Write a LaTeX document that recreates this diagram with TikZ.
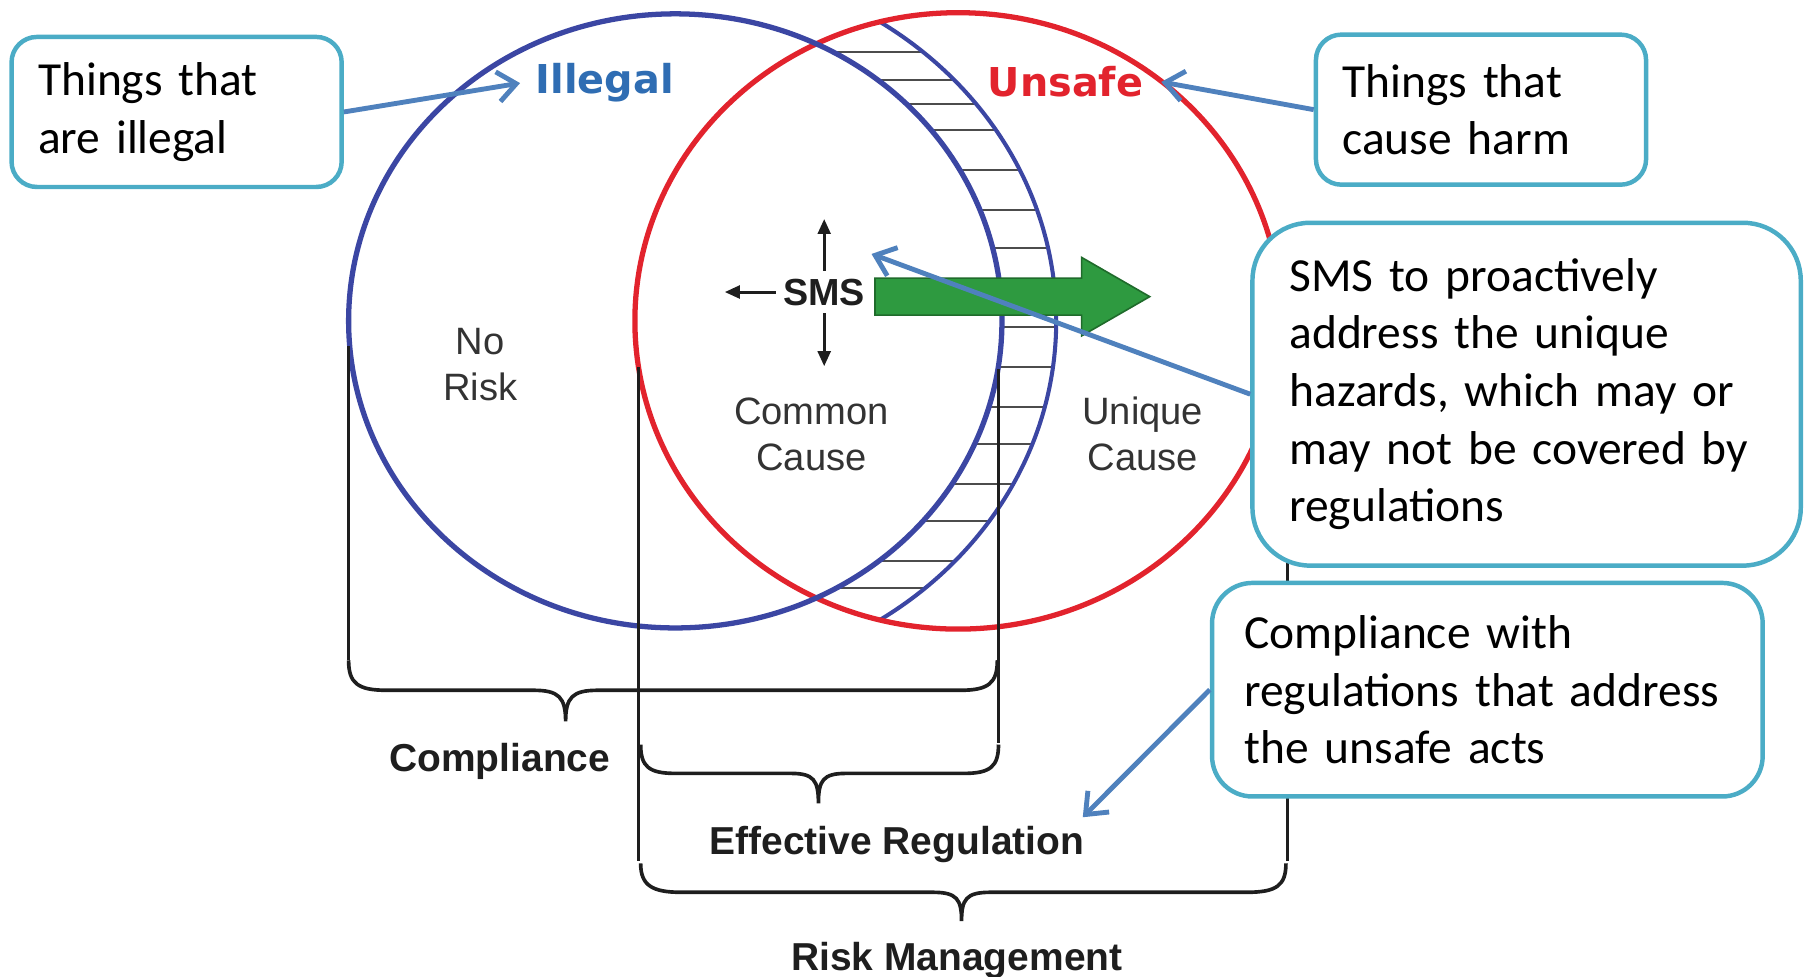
\documentclass[tikz,border=0pt]{standalone}
\usepackage{fontspec}
\setmainfont{Carlito}
\newfontfamily\labelfont{Liberation Sans}
\newfontfamily\setfont{DejaVu Sans}
\usetikzlibrary{arrows.meta}

\definecolor{ringblue}{HTML}{3B46A3}
\definecolor{ringred}{HTML}{E2232D}
\definecolor{setblue}{HTML}{2F6DB3}
\definecolor{calloutborder}{HTML}{4BACC6}
\definecolor{pointerblue}{HTML}{4F81BD}
\definecolor{arrowgreen}{HTML}{2E9A40}
\definecolor{arrowedge}{HTML}{1F6B2B}
\definecolor{ink}{HTML}{1E1E1E}
\definecolor{softink}{HTML}{333333}

\begin{document}
\begin{tikzpicture}[x=0.1mm, y=-0.1mm,
  callout/.style={draw=calloutborder, line width=1.1pt, fill=white, align=left,
    inner ysep=0pt, font=\fontsize{11.7}{14.2}\selectfont},
  pointer/.style={draw=pointerblue, line width=1.2pt,
    -{Straight Barb[length=1.6mm,width=2.6mm]}},
  ringline/.style={line width=1.3pt},
  bracketline/.style={line width=0.9pt, ink},
  guideline/.style={line width=0.7pt, ink},
  hatchline/.style={line width=0.5pt, black!70},
  smsarrow/.style={line width=0.75pt, ink, -{Triangle[length=1.3mm,width=1.1mm]}},
  arealabel/.style={font=\labelfont\fontsize{9.4}{11.4}\selectfont, text=softink, align=center},
  bracelabel/.style={font=\labelfont\bfseries\fontsize{9.6}{11}\selectfont, text=ink, inner sep=0pt, anchor=base},
  setname/.style={font=\setfont\bfseries\fontsize{9.8}{11}\selectfont}
]
\useasboundingbox (0,0) rectangle (1568,846);

% hatched crescent between the Illegal ring and its outer arc
\begin{scope}
  \clip (576,278) ellipse [x radius=33.9mm, y radius=31mm];
  \clip (830,278) ellipse [x radius=28mm, y radius=26.7mm];
  \foreach \yy in {45,69,90,113,147,182,215,250,283,318,353,385,419,451,486,509}
    \draw[hatchline] (600,\yy) -- (1000,\yy);
\end{scope}
\fill[white] (585,278) ellipse [x radius=28.3mm, y radius=26.6mm];

% outer arc of the crescent, kept inside the Unsafe ring
\begin{scope}
  \clip (830,278) ellipse [x radius=28.1mm, y radius=26.8mm];
  \draw[ringblue, line width=1pt] (576,278) ellipse [x radius=33.9mm, y radius=31mm];
\end{scope}

% the two sets
\draw[ringline, ringred] (830,278) ellipse [x radius=28mm, y radius=26.7mm];
\draw[ringline, ringblue] (585,278) ellipse [x radius=28.3mm, y radius=26.6mm];

% vertical guides of the brackets
\draw[guideline] (302,300) -- (302,572);
\draw[guideline] (553,318) -- (553,746);
\draw[guideline] (865,320) -- (865,644);
\draw[guideline] (1115,320) -- (1115,746);

% brackets
\draw[bracketline] (302,572) .. controls (302,592) and (310,598) .. (335,598)
  -- (462,598) .. controls (484,598) and (490,604) .. (490,625)
  .. controls (490,604) and (496,598) .. (518,598)
  -- (832,598) .. controls (856,598) and (864,592) .. (864,572);
\draw[bracketline] (555,645) .. controls (555,664) and (562,670) .. (585,670)
  -- (685,670) .. controls (705,670) and (709,676) .. (709,696)
  .. controls (709,676) and (713,670) .. (733,670)
  -- (835,670) .. controls (858,670) and (865,664) .. (865,645);
\draw[bracketline] (555,748) .. controls (555,767) and (565,773) .. (590,773)
  -- (808,773) .. controls (829,773) and (833,779) .. (833,798)
  .. controls (833,779) and (837,773) .. (858,773)
  -- (1080,773) .. controls (1106,773) and (1114,767) .. (1114,748);

\node[bracelabel] (compl) at (433,668) {Compliance};
\node[bracelabel] (effreg) at (777,740) {Effective Regulation};
\node[bracelabel] (riskmgmt) at (829,841) {Risk Management};

% SMS and its directions
\draw[fill=arrowgreen, draw=arrowedge, line width=0.4pt]
  (758,241) -- (937,241) -- (937,223) -- (996,257) -- (937,291) -- (937,273) -- (758,273) -- cycle;
\node[font=\labelfont\bfseries\fontsize{9.3}{11}\selectfont, text=ink, inner sep=0.6mm] (sms) at (714,253) {SMS};
\draw[smsarrow] (sms.north) -- ++(0,-45);
\draw[smsarrow] (sms.south) -- ++(0,46);
\draw[smsarrow] (sms.west) -- ++(-44,0);

% area labels
\node[arealabel] (norisk) at (416,316) {No\\Risk};
\node[arealabel] (common) at (703,376) {Common\\Cause};
\node[arealabel] (unique) at (990,376) {Unique\\Cause};

% set names
\node[setname, text=setblue, inner sep=1.3mm] (illegal) at (524,72) {Illegal};
\node[setname, text=ringred, inner sep=1.5mm] (unsafe) at (923,71) {Unsafe};

% callouts
\node[callout, rounded corners=2.2mm, minimum width=28.6mm, minimum height=13mm,
  inner xsep=2.3mm, text width=24mm] (thingsL) at (153,97) {Things that\\are illegal};
\node[callout, rounded corners=2.2mm, minimum width=28.6mm, minimum height=13mm,
  inner xsep=2.3mm, text width=24mm] (thingsR) at (1283,95) {Things that\\cause harm};
\node[callout, rounded corners=5mm, minimum width=47.5mm, minimum height=29.7mm,
  inner xsep=3.2mm, text width=41.1mm] (smsbox) at (1322.5,341.5)
  {SMS to proactively\\address the unique\\hazards, which may or\\may not be covered by\\regulations};
\node[callout, rounded corners=3.5mm, minimum width=47.7mm, minimum height=18.5mm,
  inner xsep=2.8mm, text width=42.1mm] (compbox) at (1288.5,597.5)
  {Compliance with\\regulations that address\\the unsafe acts};

% pointers from the callouts
\coordinate (smstip) at (755,220);
\coordinate (efftip) at (938,708);
\draw[pointer] (thingsL.east) -- (illegal.west);
\draw[pointer] (thingsR.west) -- (unsafe.east);
\draw[pointer] (smsbox.west) -- (smstip);
\draw[pointer] (compbox.west) -- (efftip);
\end{tikzpicture}
\end{document}
